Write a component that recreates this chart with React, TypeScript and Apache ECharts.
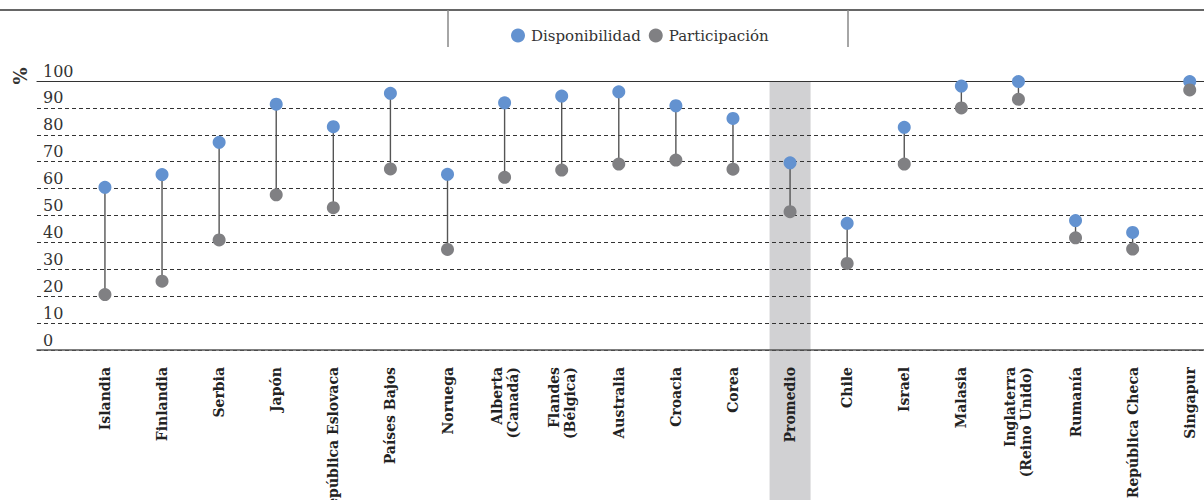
import React, { useEffect, useRef } from "react";
import * as echarts from "echarts";

const categories = [
  "Islandia", "Finlandia", "Serbia", "Japón", "República Eslovaca", "Países Bajos",
  "Noruega", "Alberta\n(Canadá)", "Flandes\n(Bélgica)", "Australia", "Croacia", "Corea",
  "Promedio", "Chile", "Israel", "Malasia", "Inglaterra\n(Reino Unido)", "Rumanía",
  "República Checa", "Singapur",
];
const disponibilidad = [60.5, 65.2, 77.2, 91.4, 83.0, 95.4, 65.3, 91.9, 94.4, 96.0, 90.8, 86.1, 69.6, 47.1, 82.8, 98.1, 99.8, 48.1, 43.7, 99.8];
const participacion = [20.6, 25.6, 40.9, 57.7, 52.9, 67.3, 37.4, 64.2, 66.9, 69.1, 70.6, 67.2, 51.4, 32.2, 69.1, 90.0, 93.2, 41.7, 37.5, 96.7];
const highlightCategory = "Promedio";
const yTicks = { min: 0, max: 100, interval: 10 };

const FONT = "DejaVu Serif";
const BLUE = "#6392D0";
const GREY = "#808083";

export default function App() {
  const ref = useRef<HTMLDivElement>(null);
  useEffect(() => {
    document.body.style.margin = "0";
    const chart = echarts.init(ref.current!, undefined, { renderer: "svg" });
    const plotTop = 81;
    const plotH = 269;
    // category index range visible across the plot width (index centres 57.1px apart)
    const xMin = -1.19;
    const xMax = 19.25;
    const idx = categories.map((_, i) => i);
    const hi = categories.indexOf(highlightCategory);
    const gridBase = { left: 37, right: 0, top: plotTop, outerBoundsMode: "none", containLabel: false };
    chart.setOption({
      animation: false,
      legend: {
        data: ["Disponibilidad", "Participación"],
        left: 506,
        top: 23,
        icon: "circle",
        itemWidth: 14,
        itemHeight: 14,
        itemGap: 8,
        textStyle: { fontFamily: FONT, fontSize: 15, color: "#333", padding: [0, 0, 0, 1] },
      },
      graphic: [
        { type: "line", shape: { x1: 0, y1: 10, x2: 1204, y2: 10 }, style: { stroke: "#333", lineWidth: 1.5 } },
        { type: "line", shape: { x1: 448, y1: 10, x2: 448, y2: 47 }, style: { stroke: "#888", lineWidth: 1.5 } },
        { type: "line", shape: { x1: 848, y1: 10, x2: 848, y2: 47 }, style: { stroke: "#888", lineWidth: 1.5 } },
        {
          type: "text", x: 20, y: 76, rotation: Math.PI / 2,
          style: { text: "%", font: `bold 18px '${FONT}'`, fill: "#333", align: "center", verticalAlign: "middle" },
        },
      ],
      grid: [
        { ...gridBase, height: plotH },
        { ...gridBase, height: plotH },
        { ...gridBase, bottom: 0 },
      ],
      xAxis: [
        {
          gridIndex: 0, type: "value", min: 0, max: 1, position: "bottom", z: 3,
          axisLine: { show: true, lineStyle: { color: "#555", width: 1.5 } },
          axisTick: { show: false }, axisLabel: { show: false }, splitLine: { show: false },
        },
        {
          gridIndex: 0, type: "value", min: 0, max: 1, position: "top", z: 3,
          axisLine: { show: true, lineStyle: { color: "#333", width: 1.2 } },
          axisTick: { show: false }, axisLabel: { show: false }, splitLine: { show: false },
        },
        {
          gridIndex: 1, type: "value", min: xMin, max: xMax, z: 6,
          axisLine: { show: false }, axisTick: { show: false }, splitLine: { show: false },
          axisLabel: {
            customValues: idx,
            formatter: (v: number) => categories[Math.round(v)] ?? "",
            rotate: 90, margin: 17, fontFamily: FONT, fontWeight: "bold",
            fontSize: 14, color: "#222", lineHeight: 16,
          },
        },
        {
          gridIndex: 2, type: "value", min: xMin, max: xMax, show: false,
        },
      ],
      yAxis: [
        {
          gridIndex: 0, type: "value", min: yTicks.min, max: yTicks.max, interval: yTicks.interval, z: 3,
          axisLine: { show: false }, axisTick: { show: false },
          axisLabel: {
            inside: true, margin: 6, verticalAlign: "bottom", padding: [0, 0, 2, 0],
            fontFamily: FONT, fontSize: 16, color: "#333",
          },
          splitLine: { show: true, lineStyle: { color: "#333", width: 1, type: [4, 3] } },
        },
        { gridIndex: 1, type: "value", min: yTicks.min, max: yTicks.max, show: false },
        { gridIndex: 2, type: "value", min: 0, max: 1, show: false },
      ],
      series: [
        {
          type: "bar", xAxisIndex: 3, yAxisIndex: 2, z: 1, silent: true, barWidth: 41,
          data: [[hi, 1]],
          itemStyle: { color: "#D1D1D3" },
        },
        {
          type: "custom", xAxisIndex: 2, yAxisIndex: 1, z: 4,
          data: idx.map((i) => [i, participacion[i], disponibilidad[i]]),
          encode: { x: 0, y: [1, 2] },
          renderItem: (params: any, api: any) => {
            const i = api.value(0);
            const lo = api.coord([i, api.value(1)]);
            const up = api.coord([i, api.value(2)]);
            return {
              type: "line",
              shape: { x1: lo[0], y1: lo[1], x2: up[0], y2: up[1] },
              style: { stroke: "#555", lineWidth: 1.4 },
            };
          },
        },
        {
          name: "Disponibilidad", type: "scatter", xAxisIndex: 2, yAxisIndex: 1, z: 5,
          symbolSize: 13, data: idx.map((i) => [i, disponibilidad[i]]), itemStyle: { color: BLUE, opacity: 1 },
        },
        {
          name: "Participación", type: "scatter", xAxisIndex: 2, yAxisIndex: 1, z: 6,
          symbolSize: 13, data: idx.map((i) => [i, participacion[i]]), itemStyle: { color: GREY, opacity: 1 },
        },
      ],
    });
    return () => chart.dispose();
  }, []);
  return <div ref={ref} style={{ width: 1204, height: 500 }} />;
}
